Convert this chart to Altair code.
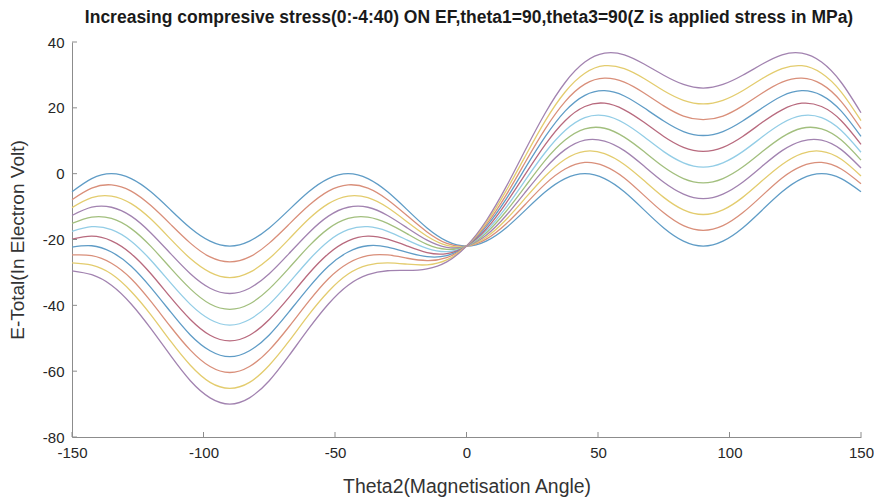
import altair as alt
import pandas as pd

# Theta2 sample positions (degrees)
theta = [-150, -142.5, -135, -127.5, -120, -112.5, -105, -97.5, -90, -82.5, -75,
         -67.5, -60, -52.5, -45, -37.5, -30, -22.5, -15, -7.5, 0, 7.5, 15, 22.5,
         30, 37.5, 45, 52.5, 60, 67.5, 75, 82.5, 90, 97.5, 105, 112.5, 120, 127.5,
         135, 142.5, 150]

stress = [0, 4, 8, 12, 16, 20, 24, 28, 32, 36, 40]

e_s0 = [-5.5, -1.5, 0.0, -1.5, -5.5, -11.0, -16.5, -20.5, -22.0, -20.5, -16.5,
        -11.0, -5.5, -1.5, 0.0, -1.5, -5.5, -11.0, -16.5, -20.5, -22.0,
        -20.5, -16.5, -11.0, -5.5, -1.5, 0.0, -1.5, -5.5, -11.0, -16.5, -20.5,
        -22.0, -20.5, -16.5, -11.0, -5.5, -1.5, 0.0, -1.5, -5.5]
e_s4 = [-7.9, -4.4, -3.4, -5.3, -9.7, -15.4, -21.1, -25.3, -26.8, -25.3, -21.1,
        -15.4, -9.7, -5.3, -3.4, -4.4, -7.9, -12.8, -17.7, -21.2, -22.0,
        -19.9, -15.3, -9.2, -3.1, 1.4, 3.4, 2.3, -1.3, -6.6, -11.9, -15.8,
        -17.2, -15.8, -11.9, -6.6, -1.3, 2.3, 3.4, 1.4, -3.1]
e_s8 = [-10.3, -7.3, -6.8, -9.1, -13.8, -19.9, -25.8, -30.0, -31.6, -30.0, -25.8,
        -19.9, -13.8, -9.1, -6.8, -7.3, -10.3, -14.7, -19.0, -21.8, -22.0,
        -19.3, -14.0, -7.3, -0.7, 4.4, 6.8, 6.1, 2.8, -2.1, -7.2, -11.0,
        -12.4, -11.0, -7.2, -2.1, 2.8, 6.1, 6.8, 4.4, -0.7]
e_s12 = [-12.7, -10.2, -10.2, -12.9, -18.0, -24.3, -30.4, -34.8, -36.4, -34.8, -30.4,
         -24.3, -18.0, -12.9, -10.2, -10.2, -12.7, -16.5, -20.2, -22.4, -22.0,
         -18.7, -12.8, -5.5, 1.7, 7.3, 10.2, 9.9, 7.0, 2.3, -2.6, -6.2,
         -7.6, -6.2, -2.6, 2.3, 7.0, 9.9, 10.2, 7.3, 1.7]
e_s16 = [-15.1, -13.2, -13.6, -16.7, -22.1, -28.7, -35.0, -39.6, -41.2, -39.6, -35.0,
         -28.7, -22.1, -16.7, -13.6, -13.2, -15.1, -18.3, -21.5, -23.0, -22.0,
         -18.0, -11.5, -3.7, 4.1, 10.2, 13.6, 13.8, 11.1, 6.7, 2.0, -1.5,
         -2.8, -1.5, 2.0, 6.7, 11.1, 13.8, 13.6, 10.2, 4.1]
e_s20 = [-17.5, -16.1, -17.0, -20.5, -26.3, -33.2, -39.7, -44.3, -46.0, -44.3, -39.7,
         -33.2, -26.3, -20.5, -17.0, -16.1, -17.5, -20.2, -22.7, -23.7, -22.0,
         -17.4, -10.3, -1.8, 6.5, 13.1, 17.0, 17.6, 15.3, 11.2, 6.7, 3.3,
         2.0, 3.3, 6.7, 11.2, 15.3, 17.6, 17.0, 13.1, 6.5]
e_s24 = [-19.9, -19.0, -20.4, -24.3, -30.4, -37.6, -44.3, -49.1, -50.8, -49.1, -44.3,
         -37.6, -30.4, -24.3, -20.4, -19.0, -19.9, -22.0, -24.0, -24.3, -22.0,
         -16.8, -9.0, 0.0, 8.9, 16.1, 20.4, 21.4, 19.4, 15.6, 11.3, 8.0,
         6.8, 8.0, 11.3, 15.6, 19.4, 21.4, 20.4, 16.1, 8.9]
e_s28 = [-22.3, -21.9, -23.8, -28.1, -34.6, -42.0, -49.0, -53.8, -55.6, -53.8, -49.0,
         -42.0, -34.6, -28.1, -23.8, -21.9, -22.3, -23.9, -25.2, -24.9, -22.0,
         -16.1, -7.8, 1.9, 11.3, 19.0, 23.8, 25.2, 23.6, 20.0, 16.0, 12.8,
         11.6, 12.8, 16.0, 20.0, 23.6, 25.2, 23.8, 19.0, 11.3]
e_s32 = [-24.7, -24.9, -27.2, -31.9, -38.8, -46.5, -53.6, -58.6, -60.4, -58.6, -53.6,
         -46.5, -38.8, -31.9, -27.2, -24.9, -24.7, -25.7, -26.4, -25.5, -22.0,
         -15.5, -6.6, 3.7, 13.7, 21.9, 27.2, 29.0, 27.8, 24.5, 20.6, 17.5,
         16.4, 17.5, 20.6, 24.5, 27.8, 29.0, 27.2, 21.9, 13.7]
e_s36 = [-27.1, -27.8, -30.5, -35.8, -42.9, -50.9, -58.2, -63.4, -65.2, -63.4, -58.2,
         -50.9, -42.9, -35.8, -30.5, -27.8, -27.1, -27.5, -27.7, -26.2, -22.0,
         -14.9, -5.3, 5.5, 16.1, 24.8, 30.5, 32.8, 31.9, 28.9, 25.2, 22.3,
         21.2, 22.3, 25.2, 28.9, 31.9, 32.8, 30.5, 24.8, 16.1]
e_s40 = [-29.5, -30.7, -33.9, -39.6, -47.1, -55.3, -62.9, -68.1, -70.0, -68.1, -62.9,
         -55.3, -47.1, -39.6, -33.9, -30.7, -29.5, -29.4, -28.9, -26.8, -22.0,
         -14.3, -4.1, 7.4, 18.5, 27.7, 33.9, 36.6, 36.1, 33.3, 29.9, 27.1,
         26.0, 27.1, 29.9, 33.3, 36.1, 36.6, 33.9, 27.7, 18.5]

series = [e_s0, e_s4, e_s8, e_s12, e_s16, e_s20, e_s24, e_s28, e_s32, e_s36, e_s40]

line_colors = ["#5f9cc6", "#d98f7a", "#e3cc6e", "#a283b0", "#a2bf7e", "#93cde6",
               "#b86a7e", "#5f9cc6", "#d98f7a", "#e3cc6e", "#a283b0"]

x_ticks = [-150, -100, -50, 0, 50, 100, 150]
y_ticks = [-80, -60, -40, -20, 0, 20, 40]

title_text = ["Increasing compresive stress(0:-4:40) ON EF,theta1=90,theta3=90(Z is applied stress in MPa)"]

rows = []
for s, vals in zip(stress, series):
    for t, v in zip(theta, vals):
        rows.append({"theta": t, "energy": v, "stress": str(s)})
df = pd.DataFrame(rows)

W, H = 789, 395
xscale = alt.Scale(domain=[-150, 150], nice=False, zero=False)
yscale = alt.Scale(domain=[-80, 40], nice=False, zero=False)
minus_fix = "replace(datum.label, '\u2212', '-')"

lines = alt.Chart(df).mark_line(interpolate="natural", strokeWidth=1.3).encode(
    x=alt.X("theta:Q", scale=xscale,
            axis=alt.Axis(values=x_ticks, title="Theta2(Magnetisation Angle)",
                          titlePadding=17, labelExpr=minus_fix, labelFlush=False)),
    y=alt.Y("energy:Q", scale=yscale,
            axis=alt.Axis(values=y_ticks, title="E-Total(In Electron Volt)",
                          titlePadding=15, titleFontSize=19, labelExpr=minus_fix,
                          labelFlush=False)),
    color=alt.Color("stress:N", sort=[str(s) for s in stress],
                    scale=alt.Scale(domain=[str(s) for s in stress], range=line_colors),
                    legend=None),
    detail="stress:N",
)

xt = alt.Chart(pd.DataFrame({"t": x_ticks})).mark_rule(color="#8c8c8c", strokeWidth=1).encode(
    x=alt.X("t:Q", scale=xscale), y=alt.value(H), y2=alt.value(H - 5))
yt = alt.Chart(pd.DataFrame({"t": y_ticks})).mark_rule(color="#8c8c8c", strokeWidth=1).encode(
    y=alt.Y("t:Q", scale=yscale), x=alt.value(0), x2=alt.value(5))

title = alt.Chart(pd.DataFrame({"t": title_text})).mark_text(
    font="Liberation Sans", fontSize=17.5, fontWeight="bold", color="#1a1a1a",
    align="center", baseline="alphabetic",
).encode(text="t:N", x=alt.value(397), y=alt.value(-19))

chart = alt.layer(lines, xt, yt, title).properties(
    width=W, height=H,
    autosize=alt.AutoSizeParams(type="none"),
    padding={"left": 64, "top": 34, "right": 13, "bottom": 61},
).configure_view(stroke=None).configure_axis(
    grid=False, ticks=False, domainColor="#8c8c8c", domainWidth=1,
    labelFont="Liberation Sans", labelFontSize=15, labelColor="#262626", labelPadding=8,
    titleFont="Liberation Sans", titleFontSize=19.4, titleFontWeight="normal", titleColor="#333333",
)

chart.save("out.html", embed_options={"renderer": "svg", "actions": False})
